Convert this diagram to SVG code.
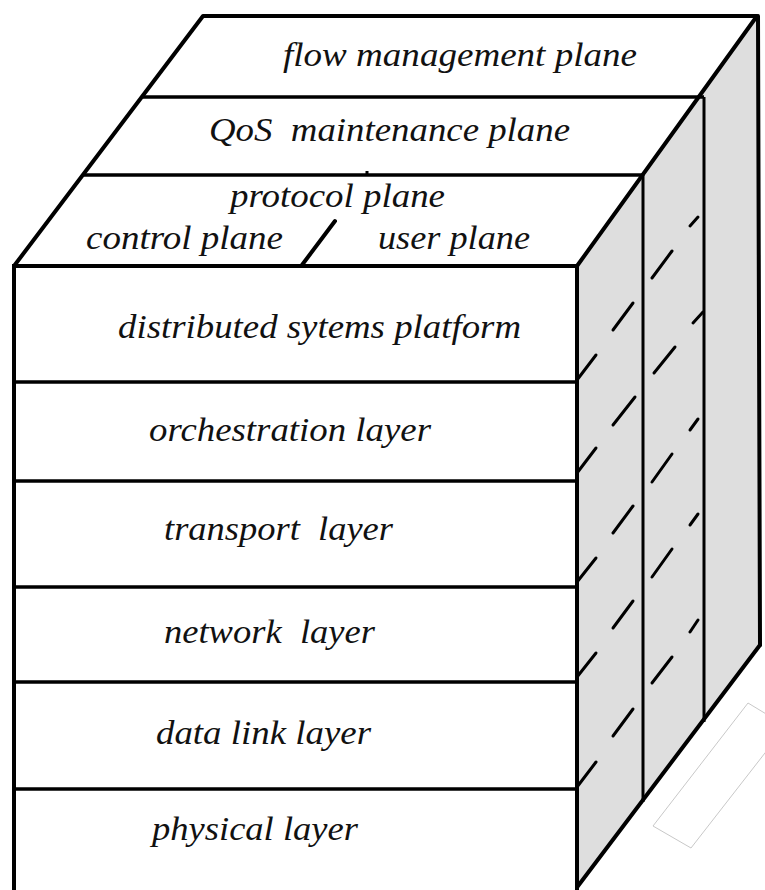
<svg xmlns="http://www.w3.org/2000/svg" width="765" height="890" viewBox="0 0 765 890">
<style>
.t{font-family:"Times New Roman",Times,"Liberation Serif","Nimbus Roman",serif;font-style:italic;font-size:34px;fill:#111;white-space:pre}
.edge{stroke:#000;stroke-width:4;fill:none;stroke-linecap:round;stroke-linejoin:round}
.ln{stroke:#000;stroke-width:3.5;fill:none}
.vl{stroke:#000;stroke-width:3;fill:none}
.d{stroke:#000;stroke-width:3;stroke-linecap:round}
</style>
<rect width="765" height="890" fill="#fff"/>
<g id="side-face">
<polygon points="577,266 757,16 760,645 575,890" fill="#dedede"/>
<line class="vl" x1="643" y1="175" x2="643" y2="802"/>
<line class="vl" x1="704" y1="97" x2="704" y2="722"/>
<line class="edge" x1="758" y1="16" x2="760" y2="645"/>
<line class="edge" x1="760" y1="645" x2="575" y2="890"/>
</g>
<g id="top-face">
<polygon points="14,266 205,16 757,16 577,266" fill="#fff"/>
<polyline class="edge" points="577,266 757,16 203,16 14,266"/>
</g>
<g id="flow-management-plane">
<line class="ln" x1="143" y1="97" x2="704" y2="97"/>
<text class="t" x="283" y="66" textLength="354" lengthAdjust="spacingAndGlyphs">flow management plane</text>
</g>
<g id="qos-maintenance-plane">
<line class="ln" x1="84" y1="175" x2="643" y2="175"/>
<rect x="365.5" y="171" width="3" height="5" fill="#000"/>
<text class="t" x="209" y="141" textLength="361" lengthAdjust="spacingAndGlyphs" xml:space="preserve">QoS  maintenance plane</text>
</g>
<g id="protocol-plane">
<text class="t" x="230" y="207" textLength="215" lengthAdjust="spacingAndGlyphs">protocol plane</text>
<line class="edge" x1="302" y1="265" x2="335" y2="221"/>
<text class="t" x="86" y="249" textLength="197" lengthAdjust="spacingAndGlyphs">control plane</text>
<text class="t" x="378" y="249" textLength="152" lengthAdjust="spacingAndGlyphs">user plane</text>
</g>
<g id="front-face">
<rect x="14" y="266" width="563" height="640" fill="#fff" stroke="#000" stroke-width="4"/>
</g>
<g id="distributed-systems-platform">
<text class="t" x="118" y="338" textLength="403" lengthAdjust="spacingAndGlyphs">distributed sytems platform</text>
</g>
<g id="orchestration-layer">
<line class="ln" x1="14" y1="382" x2="577" y2="382"/>
<text class="t" x="149" y="441" textLength="282" lengthAdjust="spacingAndGlyphs">orchestration layer</text>
</g>
<g id="transport-layer">
<line class="ln" x1="14" y1="481" x2="577" y2="481"/>
<text class="t" x="164" y="540" textLength="229" lengthAdjust="spacingAndGlyphs" xml:space="preserve">transport  layer</text>
</g>
<g id="network-layer">
<line class="ln" x1="14" y1="587" x2="577" y2="587"/>
<text class="t" x="164" y="643" textLength="211" lengthAdjust="spacingAndGlyphs" xml:space="preserve">network  layer</text>
</g>
<g id="data-link-layer">
<line class="ln" x1="14" y1="682" x2="577" y2="682"/>
<text class="t" x="156" y="744" textLength="215" lengthAdjust="spacingAndGlyphs">data link layer</text>
</g>
<g id="physical-layer">
<line class="ln" x1="14" y1="789" x2="577" y2="789"/>
<text class="t" x="152" y="840" textLength="206" lengthAdjust="spacingAndGlyphs">physical layer</text>
</g>
<g id="connectors">
<line class="d" x1="613" y1="330" x2="633" y2="303"/>
<line class="d" x1="577" y1="380" x2="596" y2="355"/>
<line class="d" x1="613" y1="425" x2="635" y2="397"/>
<line class="d" x1="577" y1="473" x2="596" y2="448"/>
<line class="d" x1="613" y1="533" x2="633" y2="506"/>
<line class="d" x1="577" y1="582" x2="596" y2="558"/>
<line class="d" x1="613" y1="628" x2="633" y2="601"/>
<line class="d" x1="577" y1="677" x2="596" y2="653"/>
<line class="d" x1="613" y1="736" x2="633" y2="709"/>
<line class="d" x1="577" y1="787" x2="596" y2="762"/>
<line class="d" x1="690" y1="226" x2="698" y2="217"/>
<line class="d" x1="652" y1="278" x2="672" y2="251"/>
<line class="d" x1="693" y1="323" x2="703" y2="312"/>
<line class="d" x1="654" y1="373" x2="675" y2="347"/>
<line class="d" x1="690" y1="430" x2="698" y2="419"/>
<line class="d" x1="652" y1="482" x2="672" y2="454"/>
<line class="d" x1="690" y1="525" x2="698" y2="514"/>
<line class="d" x1="652" y1="577" x2="672" y2="549"/>
<line class="d" x1="690" y1="632" x2="698" y2="620"/>
<line class="d" x1="652" y1="683" x2="672" y2="657"/>
</g>
<polygon points="653,826 748,703 786,726 691,848" fill="none" stroke="#c8c8c8" stroke-width="1"/>
</svg>
